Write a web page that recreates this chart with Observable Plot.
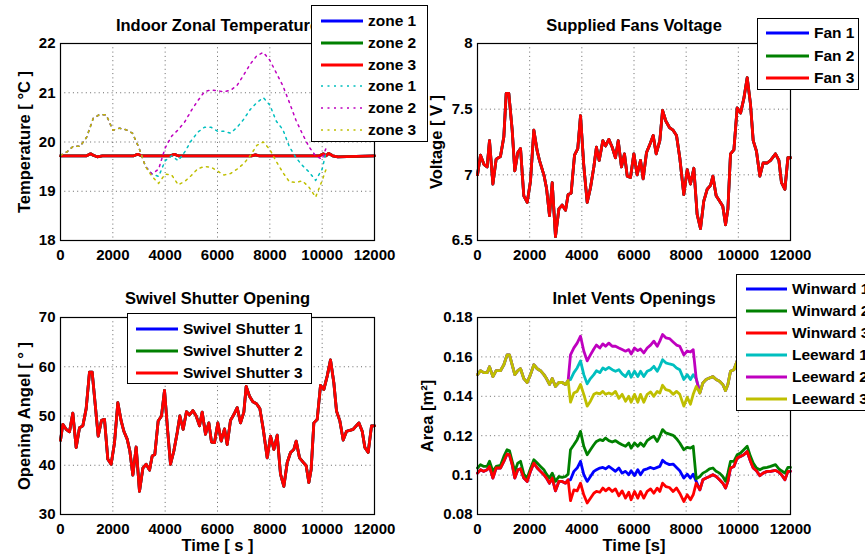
<!DOCTYPE html>
<html><head><meta charset="utf-8">
<script src="https://cdn.jsdelivr.net/npm/d3@7"></script>
<script src="https://cdn.jsdelivr.net/npm/@observablehq/plot@0.6"></script>
<style>
body{margin:0;background:#fff;overflow:hidden;}
#root{position:relative;width:865px;height:560px;overflow:hidden;background:#fff;font-family:"Liberation Sans",Arial,sans-serif;}
.panel{position:absolute;}
.panel svg{max-width:none !important;}
.legend{position:absolute;background:#fff;border:1px solid #000;box-sizing:border-box;font-weight:bold;font-size:15.5px;color:#000;}
.legend .lbl{position:absolute;white-space:nowrap;line-height:1;transform:translateY(-50%);}
.legend svg{position:absolute;overflow:visible;}
</style></head><body><div id="root"></div>
<script>
// ---------- DATA ----------
const timeTicks = [0, 2000, 4000, 6000, 8000, 10000, 12000];
const tempTicks = [18, 19, 20, 21, 22];
const voltTicks = [6.5, 7, 7.5, 8];
const angleTicks = [30, 40, 50, 60, 70];
const areaTicks = [0.08, 0.1, 0.12, 0.14, 0.16, 0.18];

// Indoor temperature, solid (zones 1-3, nearly identical)
const tempSolidT = [0,1000,1150,1250,1400,1600,2800,2950,3100,4200,4350,4500,7300,7450,7600,9900,10050,10150,10250,10400,10600,12000];
const zone1Solid = [19.72,19.72,19.76,19.73,19.70,19.72,19.72,19.75,19.72,19.72,19.75,19.72,19.72,19.74,19.72,19.72,19.76,19.72,19.77,19.72,19.70,19.72];
const zone2Solid = [19.72,19.72,19.76,19.73,19.70,19.72,19.72,19.75,19.72,19.72,19.75,19.72,19.72,19.74,19.72,19.72,19.76,19.72,19.77,19.72,19.70,19.72];
const zone3Solid = [19.72,19.72,19.76,19.73,19.70,19.72,19.72,19.75,19.72,19.72,19.75,19.72,19.72,19.74,19.72,19.72,19.76,19.72,19.77,19.72,19.70,19.72];

// Indoor temperature, dotted
const tempDotT = [0,250,500,750,1000,1250,1500,1750,2000,2250,2500,2750,3000,3250,3500,3750,4000,4250,4500,4750,5000,5250,5500,5750,6000,6250,6500,6750,7000,7250,7500,7750,8000,8250,8500,8750,9000,9250,9500,9750,10000,10150];
const zone1Dot = [19.73,19.80,19.92,19.91,20.10,20.48,20.56,20.55,20.24,20.28,20.25,20.18,19.88,19.50,19.35,19.30,19.62,19.72,19.62,19.80,20.03,20.20,20.30,20.30,20.22,20.22,20.18,20.30,20.46,20.66,20.80,20.90,20.75,20.42,20.25,19.90,19.68,19.52,19.39,19.22,19.45,19.80];
const zone2Dot = [19.73,19.80,19.92,19.91,20.10,20.48,20.56,20.55,20.24,20.28,20.25,20.18,19.88,19.50,19.35,19.45,19.88,20.12,20.25,20.41,20.64,20.84,21.02,21.06,21.04,21.02,21.05,21.15,21.36,21.58,21.75,21.82,21.66,21.40,21.14,20.80,20.44,20.16,19.90,19.72,19.65,19.88];
const zone3Dot = [19.73,19.80,19.92,19.91,20.10,20.48,20.56,20.55,20.24,20.28,20.25,20.18,19.88,19.50,19.30,19.16,19.35,19.33,19.13,19.20,19.32,19.46,19.50,19.49,19.41,19.33,19.36,19.45,19.56,19.72,19.93,20.00,19.85,19.60,19.38,19.19,19.18,19.21,19.08,18.88,19.22,19.45];

// Supplied fans voltage (fans 1-3 identical)
const fanT = [0,115,245,370,460,590,715,880,1010,1100,1200,1330,1430,1545,1650,1775,1905,2030,2160,2290,2375,2545,2645,2760,2865,2990,3120,3245,3375,3475,3590,3720,3845,3950,4075,4205,4330,4460,4560,4665,4805,4910,5035,5165,5290,5395,5520,5635,5740,5865,5995,6120,6250,6350,6480,6605,6735,6850,6990,7095,7220,7360,7500,7630,7755,7910,8040,8165,8295,8420,8550,8675,8805,8935,9025,9150,9280,9405,9510,9600,9700,9830,9955,10085,10210,10340,10465,10570,10695,10825,10950,11105,11235,11425,11555,11655,11785,11900,12000];
const fanVoltage = [7.0,7.15,7.08,7.06,7.26,6.93,7.12,7.14,7.29,7.62,7.62,7.34,7.03,7.17,7.2,6.84,6.79,6.95,7.34,7.18,7.11,7.0,6.9,6.69,6.94,6.53,6.74,6.77,6.73,6.85,6.86,7.15,7.2,7.45,7.07,6.79,6.9,7.06,7.21,7.11,7.26,7.22,7.27,7.21,7.13,7.26,7.06,7.16,6.99,6.98,7.16,7.0,7.11,6.97,7.17,7.23,7.3,7.16,7.26,7.49,7.41,7.36,7.34,7.3,7.13,6.85,7.04,6.93,7.05,6.7,6.59,6.8,6.89,6.92,6.99,6.84,6.8,6.76,6.62,6.74,7.16,7.19,7.51,7.47,7.58,7.74,7.54,7.26,7.18,6.99,7.09,7.09,7.11,7.16,7.11,6.94,6.89,7.13,7.13];

// Swivel shutter opening (shutters 1-3 identical)
const shutterT = [0,89,217,344,471,599,726,854,981,1108,1210,1338,1440,1567,1682,1809,1936,2064,2191,2319,2421,2548,2650,2765,2892,3019,3147,3274,3402,3504,3605,3733,3860,3975,4102,4204,4332,4459,4561,4688,4816,4930,5058,5185,5313,5415,5542,5669,5771,5886,6013,6141,6268,6370,6497,6625,6752,6880,7007,7096,7224,7351,7491,7619,7746,7899,8026,8154,8281,8408,8536,8663,8791,8918,9007,9135,9262,9389,9491,9580,9682,9810,9937,10065,10192,10319,10447,10549,10676,10804,10931,11058,11186,11402,11530,11632,11759,11886,12000];
const shutterAngle = [45.05,48.3,47.3,46.8,50.6,43.6,47.6,48.0,51.5,58.9,58.9,51.7,45.9,49.1,49.3,41.2,40.2,44.6,52.7,49.0,46.9,45.3,42.9,38.0,43.7,34.7,39.4,40.2,39.0,41.9,42.2,49.0,50.0,55.2,46.6,40.2,42.9,46.6,50.0,47.3,50.9,50.2,51.1,50.0,48.0,50.8,46.3,48.6,44.7,44.6,48.6,44.9,47.4,44.2,49.1,50.3,51.7,48.6,50.8,56.0,54.0,52.9,52.5,51.5,47.4,41.5,45.9,43.2,46.1,38.2,35.7,40.5,42.6,43.2,44.9,41.5,40.7,39.9,36.5,39.2,48.6,49.3,56.2,55.4,58.1,61.4,56.7,51.0,49.0,45.1,46.9,47.1,47.3,48.6,46.9,43.6,42.6,48.0,48.0];

// Inlet vents openings
const ventT = [0,115,245,370,460,590,715,880,1010,1135,1225,1330,1430,1545,1650,1775,1905,2030,2160,2290,2415,2545,2645,2760,2865,2990,3120,3245,3375,3475,3565,3695,3820,3950,4075,4205,4330,4460,4560,4690,4805,4910,5035,5165,5290,5420,5545,5675,5800,5890,6020,6145,6250,6375,6505,6635,6760,6890,6990,7095,7220,7360,7500,7630,7755,7910,8040,8165,8270,8385,8525,8640,8765,8895,9025,9150,9280,9405,9510,9600,9700,9830,9955,10085,10210,10340,10465,10570,10695,10825,10950,11105,11235,11425,11555,11655,11785,11900,12000];
const winward1 = [0.101,0.1027,0.1019,0.1027,0.1044,0.0985,0.1036,0.1036,0.107,
  0.1107,0.1103,0.1053,0.0985,0.1027,0.1032,0.0985,0.0968,0.1019,0.1061,
  0.1036,0.1019,0.1002,0.0985,0.0959,0.0985,0.092,0.0968,0.0968,0.0959,
  0.0976,0.0976,0.1019,0.1036,0.107,0.1002,0.0968,0.0993,0.1019,0.1027,
  0.1036,0.1039,0.1032,0.1044,0.1032,0.1019,0.1036,0.101,0.1019,0.1002,
  0.1022,0.0998,0.1027,0.1002,0.1027,0.1032,0.1039,0.1032,0.1039,0.1044,
  0.1075,0.1061,0.1053,0.1056,0.1039,0.1022,0.0985,0.1005,0.0985,0.1005,
  0.0968,0.0925,0.0976,0.0985,0.0993,0.1002,0.0993,0.0976,0.0959,0.0934,
  0.0968,0.1036,0.1044,0.1087,0.1095,0.1103,0.112,0.107,0.1036,0.1022,
  0.0997,0.101,0.1019,0.1019,0.1024,0.1015,0.1002,0.0976,0.1019,0.1019];
const winward2 = [0.1036,0.1053,0.1044,0.1044,0.107,0.1019,0.1044,0.1049,0.1095,
  0.1129,0.1124,0.107,0.1019,0.1061,0.107,0.1005,0.0985,0.1032,0.1078,
  0.1061,0.1044,0.1027,0.1005,0.0985,0.101,0.0968,0.0993,0.0988,0.0993,
  0.1005,0.1129,0.1154,0.118,0.1222,0.1146,0.1103,0.1129,0.1154,0.1171,
  0.118,0.1175,0.1188,0.1175,0.1168,0.1175,0.1163,0.1154,0.1146,0.1163,
  0.1137,0.1163,0.1146,0.1163,0.1146,0.1175,0.1188,0.1197,0.1171,0.1197,
  0.1231,0.1214,0.1208,0.1202,0.1185,0.1163,0.1129,0.1141,0.1137,0.1146,
  0.0981,0.0993,0.101,0.1019,0.1032,0.1036,0.1019,0.101,0.0993,0.0968,
  0.101,0.107,0.107,0.1103,0.1112,0.1129,0.1146,0.1095,0.1061,0.1036,
  0.1027,0.1036,0.1039,0.1044,0.1053,0.1032,0.1022,0.101,0.1039,0.1039];
const winward3 = [0.101,0.1027,0.1019,0.1027,0.1044,0.0985,0.1036,0.1036,0.107,
  0.1107,0.1103,0.1053,0.0985,0.1027,0.1032,0.0985,0.0968,0.1019,0.1061,
  0.1036,0.1019,0.1002,0.0985,0.0959,0.0985,0.092,0.0968,0.0968,0.0959,
  0.0976,0.087,0.0925,0.092,0.0959,0.090,0.0858,0.0883,0.0908,0.0917,
  0.0913,0.0934,0.092,0.0934,0.0917,0.093,0.0895,0.092,0.0883,0.0913,
  0.0875,0.0917,0.0883,0.0917,0.0883,0.0917,0.093,0.0908,0.0934,0.0917,
  0.0959,0.0942,0.0937,0.0917,0.0934,0.0908,0.0866,0.090,0.0875,0.090,
  0.0959,0.0925,0.0976,0.0985,0.0993,0.1002,0.0993,0.0976,0.0959,0.0934,
  0.0968,0.1036,0.1044,0.1087,0.1095,0.1103,0.112,0.107,0.1036,0.1022,
  0.0997,0.101,0.1019,0.1019,0.1024,0.1015,0.1002,0.0976,0.1019,0.1019];
const leeward1 = [0.151,0.153,0.152,0.152,0.155,0.150,0.153,0.153,0.156,
  0.161,0.161,0.156,0.151,0.153,0.154,0.149,0.147,0.151,0.156,
  0.154,0.153,0.151,0.149,0.146,0.149,0.145,0.147,0.147,0.146,
  0.148,0.1485,0.152,0.1544,0.158,0.151,0.1463,0.149,0.151,0.153,
  0.152,0.1544,0.1535,0.1547,0.1535,0.1527,0.1535,0.1514,0.150,0.1527,
  0.1497,0.1527,0.150,0.1527,0.150,0.1527,0.1535,0.1552,0.1527,0.1552,
  0.1586,0.157,0.1564,0.156,0.1544,0.1535,0.1485,0.151,0.1485,0.151,
  0.149,0.1417,0.1468,0.1485,0.1493,0.150,0.1485,0.1476,0.146,0.1429,
  0.146,0.1527,0.1535,0.158,0.159,0.160,0.161,0.157,0.154,0.152,
  0.150,0.151,0.151,0.152,0.152,0.151,0.150,0.148,0.151,0.151];
const leeward2 = [0.151,0.153,0.152,0.152,0.155,0.150,0.153,0.153,0.156,
  0.161,0.161,0.156,0.151,0.153,0.154,0.149,0.147,0.151,0.156,
  0.154,0.153,0.151,0.149,0.146,0.149,0.145,0.147,0.147,0.146,
  0.148,0.161,0.1646,0.167,0.1705,0.163,0.158,0.161,0.164,0.166,
  0.1645,0.1666,0.1654,0.167,0.1654,0.1654,0.1645,0.1637,0.1629,0.1637,
  0.1615,0.1645,0.1632,0.164,0.162,0.1645,0.166,0.168,0.1654,0.168,
  0.1714,0.1697,0.1693,0.1676,0.166,0.1654,0.161,0.163,0.1625,0.1637,
  0.149,0.1417,0.1468,0.1485,0.1493,0.150,0.1485,0.1476,0.146,0.1429,
  0.146,0.1527,0.1535,0.158,0.159,0.160,0.161,0.157,0.154,0.152,
  0.150,0.151,0.151,0.152,0.152,0.151,0.150,0.148,0.151,0.151];
const leeward3 = [0.151,0.153,0.152,0.152,0.155,0.150,0.153,0.153,0.156,
  0.161,0.161,0.156,0.151,0.153,0.154,0.149,0.147,0.151,0.156,
  0.154,0.153,0.151,0.149,0.146,0.149,0.145,0.147,0.147,0.146,
  0.148,0.137,0.1417,0.1425,0.146,0.141,0.135,0.1375,0.141,0.1417,
  0.1412,0.1425,0.141,0.1417,0.141,0.1425,0.139,0.141,0.1375,0.140,
  0.137,0.141,0.137,0.141,0.137,0.141,0.1422,0.140,0.1425,0.1417,
  0.1456,0.1434,0.1429,0.141,0.1425,0.141,0.135,0.1395,0.136,0.141,
  0.145,0.1417,0.1468,0.1485,0.1493,0.150,0.1485,0.1476,0.146,0.1429,
  0.146,0.1527,0.1535,0.158,0.159,0.160,0.161,0.157,0.154,0.152,
  0.150,0.151,0.151,0.152,0.152,0.151,0.150,0.148,0.151,0.151];

// ---------- STYLE ----------
const C = {blue:"#0000ff", green:"#008000", red:"#ff0000", cyan:"#00bfbf", magenta:"#bf00bf", yellow:"#bfbf00"};
const FONT = '"Liberation Sans", Arial, sans-serif';
const LW = 2.8;
const DOT = "2,4.5";
const DOTW = 1.5;

function rows(ts, vs) { return ts.map((t, i) => ({t, v: vs[i]})); }
function solid(ts, vs, color) {
  return Plot.line(rows(ts, vs), {x: "t", y: "v", stroke: color, strokeWidth: LW, strokeLinejoin: "round", strokeLinecap: "round"});
}
function dotted(ts, vs, color) {
  return Plot.line(rows(ts, vs), {x: "t", y: "v", stroke: color, strokeWidth: DOTW, strokeDasharray: DOT});
}
const fmt = d => String(d);

const root = document.getElementById("root");

function panel(o) {
  const svg = Plot.plot({
    width: o.width, height: o.height,
    marginTop: o.mt, marginRight: o.mr, marginBottom: o.mb, marginLeft: o.ml,
    style: {fontFamily: FONT, fontSize: "15px", fontWeight: "bold", color: "#000", background: "transparent", overflow: "visible"},
    x: {domain: [0, 12000]},
    y: {domain: o.yDomain},
    marks: [
      Plot.gridX(timeTicks, {stroke: "#000", strokeOpacity: 0.6, strokeDasharray: "1,3.3"}),
      Plot.gridY(o.yTicks, {stroke: "#000", strokeOpacity: 0.6, strokeDasharray: "1,3.3"}),
      ...o.marks,
      Plot.frame({stroke: "#000", strokeWidth: 1.2}),
      Plot.axisX(timeTicks, {tickSize: 0, tickPadding: 9, tickFormat: fmt, label: null}),
      Plot.axisY(o.yTicks, {tickSize: 0, tickPadding: 5, tickFormat: fmt, label: null}),
      Plot.text([o.title], {text: d => d, frameAnchor: "top", dy: o.titleDy, textAnchor: "middle", lineAnchor: "middle", fontSize: 16.5, fontWeight: "bold"}),
      Plot.text([o.ylabel], {text: d => d, frameAnchor: "left", dx: o.ylabelDx, rotate: -90, textAnchor: "middle", lineAnchor: "middle", fontSize: 16.5, fontWeight: "bold"}),
      ...(o.xlabel ? [Plot.text([o.xlabel], {text: d => d, frameAnchor: "bottom", dy: 31.5, textAnchor: "middle", lineAnchor: "middle", fontSize: 16.5, fontWeight: "bold"})] : [])
    ]
  });
  const div = document.createElement("div");
  div.className = "panel";
  div.style.left = o.left + "px"; div.style.top = o.top + "px";
  div.style.width = o.width + "px"; div.style.height = o.height + "px";
  div.appendChild(svg);
  root.appendChild(div);
}

function legend(o) {
  const div = document.createElement("div");
  div.className = "legend";
  Object.assign(div.style, {left: o.left + "px", top: o.top + "px", width: o.width + "px", height: o.height + "px"});
  o.items.forEach((it, i) => {
    const y = o.y0 + i * o.dy;
    const sw = o.sw2 - o.sw1;
    const svg = document.createElementNS("http://www.w3.org/2000/svg", "svg");
    svg.setAttribute("width", sw); svg.setAttribute("height", 8);
    svg.style.left = o.sw1 + "px"; svg.style.top = (y - 4) + "px";
    const ln = document.createElementNS("http://www.w3.org/2000/svg", "line");
    ln.setAttribute("x1", 0); ln.setAttribute("x2", sw); ln.setAttribute("y1", 4); ln.setAttribute("y2", 4);
    ln.setAttribute("stroke", it.color);
    ln.setAttribute("stroke-width", it.dash ? DOTW : LW);
    if (it.dash) ln.setAttribute("stroke-dasharray", DOT);
    svg.appendChild(ln);
    div.appendChild(svg);
    const s = document.createElement("span");
    s.className = "lbl"; s.textContent = it.label;
    s.style.left = o.tx + "px"; s.style.top = y + "px";
    div.appendChild(s);
  });
  root.appendChild(div);
}

// Top-left: temperature
panel({left: 0, top: 0, width: 432, height: 270, mt: 43, mr: 58, mb: 30, ml: 60,
  yDomain: [18, 22], yTicks: tempTicks, title: "Indoor Zonal Temperature", titleDy: -18,
  ylabel: "Temperature [ °C ]", ylabelDx: -36,
  marks: [
    solid(tempSolidT, zone1Solid, C.blue), solid(tempSolidT, zone2Solid, C.green), solid(tempSolidT, zone3Solid, C.red),
    dotted(tempDotT, zone1Dot, C.cyan), dotted(tempDotT, zone2Dot, C.magenta), dotted(tempDotT, zone3Dot, C.yellow)
  ]});

// Top-right: voltage
panel({left: 432, top: 0, width: 433, height: 270, mt: 43, mr: 75, mb: 30, ml: 45,
  yDomain: [6.5, 8], yTicks: voltTicks, title: "Supplied Fans Voltage", titleDy: -18,
  ylabel: "Voltage [ V ]", ylabelDx: -41,
  marks: [solid(fanT, fanVoltage, C.blue), solid(fanT, fanVoltage, C.green), solid(fanT, fanVoltage, C.red)]});

// Bottom-left: shutter
panel({left: 0, top: 270, width: 432, height: 290, mt: 47, mr: 58, mb: 46, ml: 60,
  yDomain: [30, 70], yTicks: angleTicks, title: "Swivel Shutter Opening", titleDy: -18.5,
  ylabel: "Opening Angel [ ° ]", ylabelDx: -36, xlabel: "Time [ s ]",
  marks: [solid(shutterT, shutterAngle, C.blue), solid(shutterT, shutterAngle, C.green), solid(shutterT, shutterAngle, C.red)]});

// Bottom-right: vents
panel({left: 432, top: 270, width: 433, height: 290, mt: 47, mr: 75, mb: 46, ml: 45,
  yDomain: [0.08, 0.18], yTicks: areaTicks, title: "Inlet Vents Openings", titleDy: -18.5,
  ylabel: "Area [m²]", ylabelDx: -50, xlabel: "Time [s]",
  marks: [
    solid(ventT, winward1, C.blue), solid(ventT, winward2, C.green), solid(ventT, winward3, C.red),
    solid(ventT, leeward1, C.cyan), solid(ventT, leeward2, C.magenta), solid(ventT, leeward3, C.yellow)
  ]});

// Legends
legend({left: 311, top: 5, width: 117, height: 137, y0: 15, dy: 21.8, sw1: 9, sw2: 51, tx: 56,
  items: [{label: "zone 1", color: C.blue}, {label: "zone 2", color: C.green}, {label: "zone 3", color: C.red},
          {label: "zone 1", color: C.cyan, dash: true}, {label: "zone 2", color: C.magenta, dash: true}, {label: "zone 3", color: C.yellow, dash: true}]});
legend({left: 757, top: 18, width: 102, height: 72, y0: 14, dy: 22.5, sw1: 8, sw2: 51, tx: 56,
  items: [{label: "Fan 1", color: C.blue}, {label: "Fan 2", color: C.green}, {label: "Fan 3", color: C.red}]});
legend({left: 127, top: 313, width: 185, height: 71, y0: 15, dy: 22, sw1: 8, sw2: 50, tx: 55,
  items: [{label: "Swivel Shutter 1", color: C.blue}, {label: "Swivel Shutter 2", color: C.green}, {label: "Swivel Shutter 3", color: C.red}]});
legend({left: 736, top: 274, width: 150, height: 137, y0: 14, dy: 22, sw1: 9, sw2: 50, tx: 55,
  items: [{label: "Winward 1", color: C.blue}, {label: "Winward 2", color: C.green}, {label: "Winward 3", color: C.red},
          {label: "Leeward 1", color: C.cyan}, {label: "Leeward 2", color: C.magenta}, {label: "Leeward 3", color: C.yellow}]});
</script>
</body></html>
